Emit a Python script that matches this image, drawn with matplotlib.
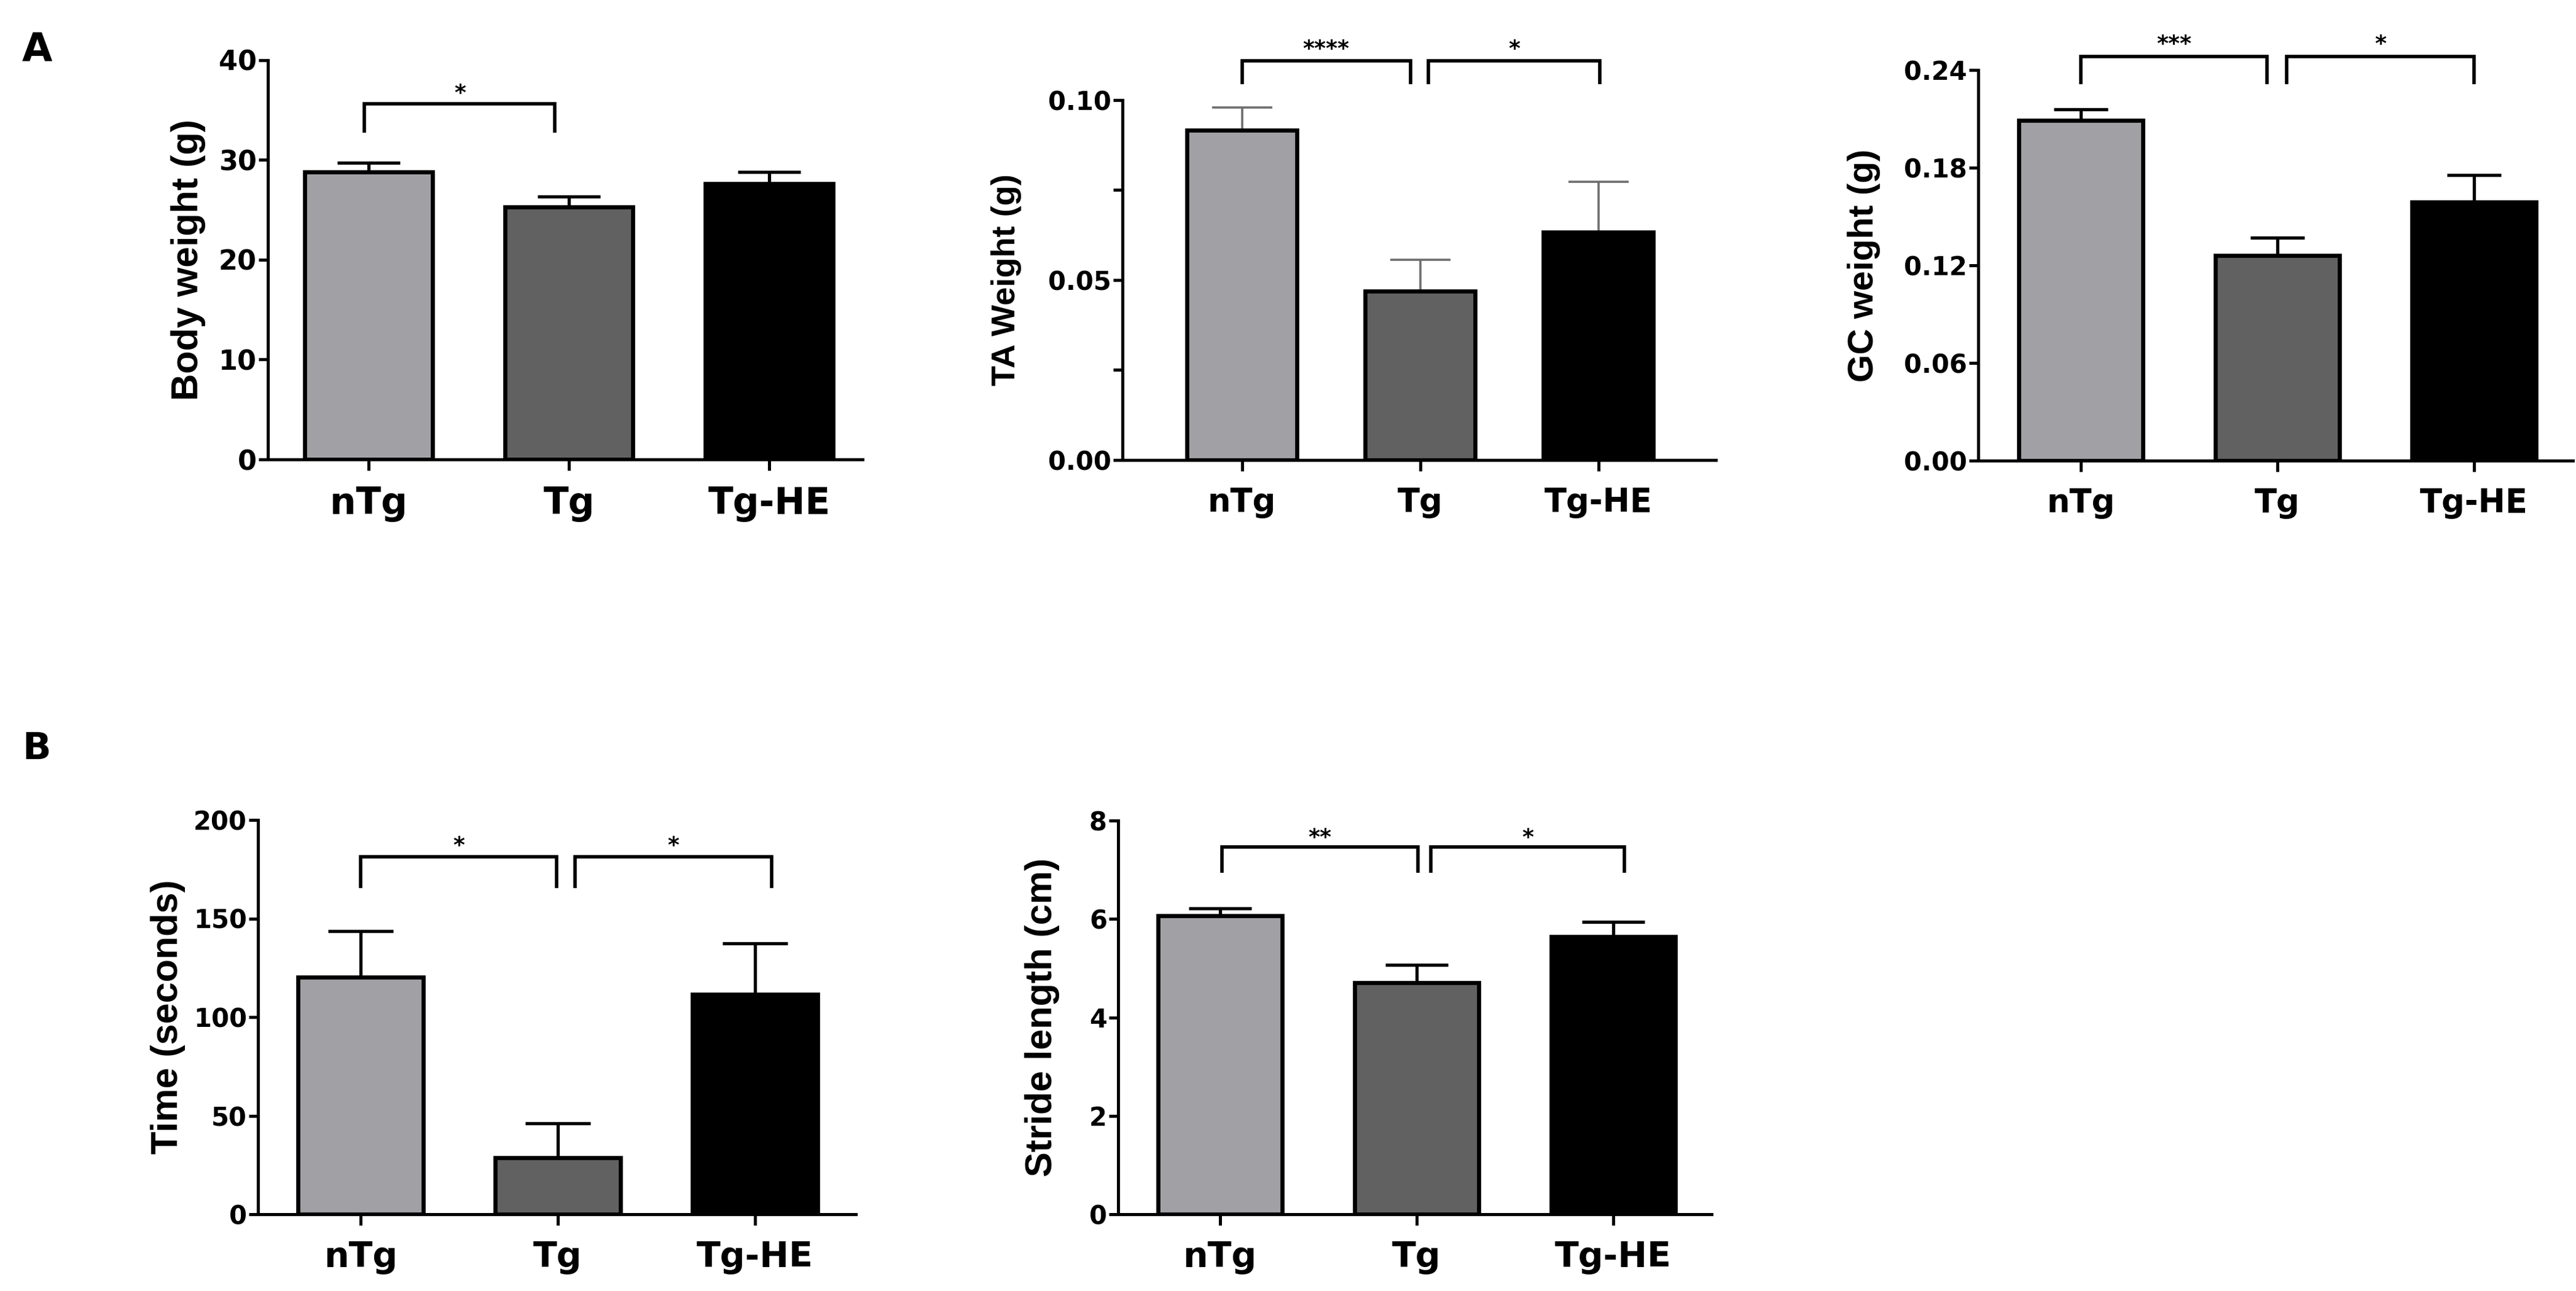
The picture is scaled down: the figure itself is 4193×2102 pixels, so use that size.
import matplotlib
matplotlib.use("Agg")
import matplotlib.pyplot as plt
import numpy as np

# ---- data ----
groups = ['nTg', 'Tg', 'Tg-HE']

body_weight = [28.8, 25.3, 27.6]
body_weight_sem = [0.9, 1.0, 1.2]

ta_weight = [0.0916, 0.0469, 0.0632]
ta_weight_sem = [0.0063, 0.0086, 0.0141]

gc_weight = [0.209, 0.126, 0.1588]
gc_weight_sem = [0.0068, 0.0108, 0.0167]

time_sec = [120.1, 28.8, 111.4]
time_sec_sem = [23.5, 17.4, 26.1]

stride_cm = [6.06, 4.70, 5.64]
stride_cm_sem = [0.15, 0.37, 0.30]

sig_body = ['*']
sig_ta = ['****', '*']
sig_gc = ['***', '*']
sig_time = ['*', '*']
sig_stride = ['**', '*']

bar_colors = ['#a1a1a5', '#616161', '#000000']

W, H = 4193, 2102
fig = plt.figure(figsize=(W / 100, H / 100), dpi=100)

BOLD = dict(family=['DejaVu Sans'], weight='bold')
LAB = dict(family=['Liberation Sans', 'DejaVu Sans'], weight='bold')


def px_axes(l, r, t, b):
    return fig.add_axes([l / W, 1 - b / H, (r - l) / W, (b - t) / H])


def panel(box, vals, sem, sigs, ylabel, yticks, ytl, lay):
    ax = px_axes(*box)
    x = np.arange(len(groups))
    ax.bar(x, vals, width=lay['bw'], color=bar_colors, edgecolor='black',
           linewidth=4.8, zorder=2)
    eb = ax.errorbar(x, vals, yerr=[np.zeros(len(vals)), sem], fmt='none',
                     ecolor=lay.get('ecolor', 'black'), elinewidth=lay.get('elw', 3.8),
                     capsize=lay['cap'], capthick=lay.get('elw', 3.8), zorder=1)
    eb[1][0].set_visible(False)
    ax.set_xlim(*lay['xlim'])
    ax.set_ylim(yticks[0], yticks[-1])
    ax.set_yticks(yticks)
    ax.set_yticklabels(ytl, fontsize=lay['yfs'], **BOLD)
    ax.set_xticks(x)
    ax.set_xticklabels(groups, fontsize=lay['xfs'], **BOLD)
    for s in ['top', 'right']:
        ax.spines[s].set_visible(False)
    for s in ['left', 'bottom']:
        ax.spines[s].set_linewidth(3.6)
    ax.tick_params(axis='x', direction='out', length=13, width=3.6, pad=18)
    ax.tick_params(axis='y', direction='out', length=11, width=3.6, pad=2)
    ax.set_ylabel(ylabel, fontsize=lay['lfs'], **LAB)
    ax.yaxis.set_label_coords((lay['lab_x'] - box[0]) / (box[1] - box[0]), 0.5)
    for (x1, x2), s in zip(lay['br'], sigs):
        ax.plot([x1, x1, x2, x2], [lay['leg'], lay['top'], lay['top'], lay['leg']],
                color='black', lw=4, clip_on=False, solid_joinstyle='miter',
                solid_capstyle='butt')
        ax.annotate(s, xy=((x1 + x2) / 2, lay['star']), xytext=(0, -0.59 * 26),
                    textcoords='offset points', ha='center', va='baseline',
                    fontsize=26, annotation_clip=False, **BOLD)
    return ax


panel((436, 1404, 97.6, 748), body_weight, body_weight_sem, sig_body,
      'Body weight (g)', [0, 10, 20, 30, 40], ['0', '10', '20', '30', '40'],
      dict(bw=0.638, cap=37, xlim=(-0.503, 2.466), yfs=32, xfs=43, lfs=44,
           lab_x=335, br=[(-0.02, 0.93)], top=35.6, leg=32.7, star=37.35))

panel((1827, 2793, 162.5, 749), ta_weight, ta_weight_sem, sig_ta,
      'TA Weight (g)', [0, 0.025, 0.05, 0.075, 0.10], ['0.00', '', '0.05', '', '0.10'],
      dict(bw=0.617, cap=35, xlim=(-0.671, 2.66), yfs=30, xfs=38, lfs=39,
           lab_x=1663, ecolor='#6e6e6e', elw=2.6,
           br=[(0.0, 0.945), (1.045, 2.01)], top=0.1109, leg=0.1043, star=0.116))

panel((3220, 4188, 113.7, 750.3), gc_weight, gc_weight_sem, sig_gc,
      'GC weight (g)', [0, 0.06, 0.12, 0.18, 0.24], ['0.00', '0.06', '0.12', '0.18', '0.24'],
      dict(bw=0.634, cap=32, xlim=(-0.522, 2.503), yfs=30, xfs=38, lfs=42,
           lab_x=3061, br=[(0.0, 0.947), (1.047, 2.0)], top=0.248, leg=0.2314, star=0.260))

panel((420, 1393, 1335, 1977), time_sec, time_sec_sem, sig_time,
      'Time (seconds)', [0, 50, 100, 150, 200], ['0', '50', '100', '150', '200'],
      dict(bw=0.635, cap=38, xlim=(-0.52, 2.511), yfs=30, xfs=41, lfs=44,
           lab_x=302, br=[(0.0, 0.994), (1.087, 2.084)], top=181.4, leg=165.5, star=190.5))

panel((1820, 2786, 1336, 1977), stride_cm, stride_cm_sem, sig_stride,
      'Stride length (cm)', [0, 2, 4, 6, 8], ['0', '2', '4', '6', '8'],
      dict(bw=0.631, cap=37, xlim=(-0.517, 2.50), yfs=30, xfs=41, lfs=44,
           lab_x=1725, br=[(0.01, 1.007), (1.073, 2.055)], top=7.46, leg=6.94, star=7.79))

fig.text(36 / W, 1 - 52 / H, 'A', fontsize=46, va='top', ha='left', **BOLD)
fig.text(36 / W, 1 - 1190 / H, 'B', fontsize=44, va='top', ha='left', **BOLD)

fig.savefig('out.png', dpi=100, facecolor='white')
